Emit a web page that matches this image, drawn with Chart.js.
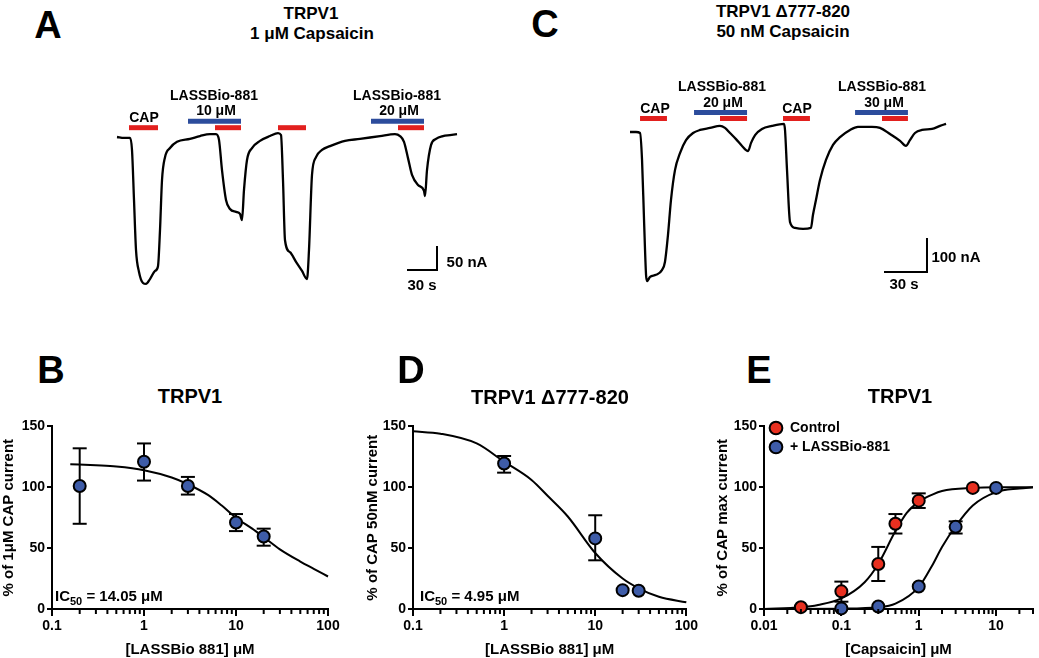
<!DOCTYPE html>
<html>
<head>
<meta charset="utf-8">
<script src="https://cdn.jsdelivr.net/npm/chart.js@4.4.1/dist/chart.umd.min.js"></script>
<style>
  html, body { margin: 0; padding: 0; background: #fff; }
  body { width: 1039px; height: 658px; position: relative; overflow: hidden;
         font-family: "Liberation Sans", Arial, sans-serif; font-weight: bold; color: #000; }
  canvas { position: absolute; }
  .t { position: absolute; transform: translate(-50%, -50%); line-height: 1; white-space: nowrap; }
  .l { position: absolute; transform: translate(0, -50%); line-height: 1; white-space: nowrap; }
  .big { font-size: 38px; }
  .ttl { font-size: 17px; }
  .lab { font-size: 14px; }
  .cal { font-size: 15px; }
  .ptl { font-size: 20px; }
  .ic { font-size: 15px; }
  .ic sub { font-size: 11px; vertical-align: -4px; }
</style>
</head>
<body>
<canvas id="trA" width="380" height="240" style="left:100px;top:60px"></canvas>
<canvas id="trC" width="380" height="240" style="left:600px;top:60px"></canvas>
<canvas id="chB" width="345" height="243" style="left:0px;top:416px"></canvas>
<canvas id="chD" width="336" height="243" style="left:364px;top:416px"></canvas>
<canvas id="chE" width="328" height="243" style="left:714px;top:416px"></canvas>

<div class="t big" style="left:48px;top:25px">A</div>
<div class="t ttl" style="left:311px;top:13px">TRPV1</div>
<div class="t ttl" style="left:312px;top:33px">1 μM Capsaicin</div>
<div class="t lab" style="left:144px;top:117px">CAP</div>
<div class="t lab" style="left:214px;top:95px">LASSBio-881</div>
<div class="t lab" style="left:216px;top:110px">10 μM</div>
<div class="t lab" style="left:397px;top:95px">LASSBio-881</div>
<div class="t lab" style="left:399px;top:110px">20 μM</div>
<div class="t cal" style="left:467px;top:261px">50 nA</div>
<div class="t cal" style="left:422px;top:284px">30 s</div>

<div class="t big" style="left:545px;top:24px">C</div>
<div class="t ttl" style="left:783px;top:11px">TRPV1 Δ777-820</div>
<div class="t ttl" style="left:783px;top:31px">50 nM Capsaicin</div>
<div class="t lab" style="left:655px;top:108px">CAP</div>
<div class="t lab" style="left:722px;top:86px">LASSBio-881</div>
<div class="t lab" style="left:723px;top:102px">20 μM</div>
<div class="t lab" style="left:797px;top:108px">CAP</div>
<div class="t lab" style="left:882px;top:86px">LASSBio-881</div>
<div class="t lab" style="left:884px;top:102px">30 μM</div>
<div class="t cal" style="left:956px;top:256px">100 nA</div>
<div class="t cal" style="left:904px;top:283px">30 s</div>

<div class="t big" style="left:51px;top:370px">B</div>
<div class="t ptl" style="left:190px;top:396px">TRPV1</div>
<div class="l ic" style="left:55px;top:597px">IC<sub>50</sub> = 14.05 μM</div>

<div class="t big" style="left:411px;top:370px">D</div>
<div class="t ptl" style="left:550px;top:397px">TRPV1 Δ777-820</div>
<div class="l ic" style="left:420px;top:597px">IC<sub>50</sub> = 4.95 μM</div>

<div class="t big" style="left:759px;top:370px">E</div>
<div class="t ptl" style="left:900px;top:396px">TRPV1</div>

<script>
// ---------- Panel A: current trace, time (s) / current (nA) ----------
const A_TIME = [0, 7, 13, 15, 17, 19, 22, 26, 29, 33, 38, 41, 43, 45, 48, 53, 60, 73, 83, 93,
  99, 102, 105, 109, 113, 119, 123, 125, 127, 130, 135, 143, 153, 161, 164, 166, 168, 173, 179, 185,
  190, 192, 195, 199, 205, 213, 228, 243, 263, 278, 283, 287, 291, 295, 301, 307, 308, 310, 314, 319,
  326, 333, 340];
const A_CURRENT = [0, -2, -2, -27, -131, -235, -281, -304, -306, -296, -279, -269, -194, -90, -42, -23, -10, -4, 2, 6,
  6, -6, -69, -131, -150, -156, -160, -173, -110, -48, -23, -8, 2, 8, 4, -90, -215, -240, -260, -279,
  -296, -235, -79, -42, -27, -19, -8, -4, 2, 6, 2, -10, -44, -79, -100, -112, -123, -69, -17, -4,
  2, 4, 6];
const A_CAP = [[12, 41], [161, 189]];
const A_LASS = [[71, 124], [254, 307]];
const A_CAP_LASS = [[98, 124], [281, 307]];

// ---------- Panel C: current trace ----------
const C_TIME = [0, 4.2, 7.0, 8.4, 9.8, 11.2, 11.9, 14.0, 18.1, 22.3, 24.4, 26.5, 28.6, 31.4, 34.9, 39.1, 44.0, 48.9, 55.8, 62.8,
  66.3, 69.8, 74.0, 78.2, 82.4, 84.5, 87.3, 92.1, 99.1, 107.5, 108.2, 109.6, 111.7, 115.2, 120.8, 126.3, 127.7, 129.8, 132.6, 136.8,
  141.7, 146.6, 153.6, 159.1, 161.9, 168.9, 174.5, 181.5, 188.5, 192.6, 195.4, 198.9, 203.8, 210.8, 216.4, 220.6];
const C_CURRENT = [0, 0, -3, -82, -259, -420, -438, -426, -420, -406, -382, -303, -200, -112, -62, -24, -3, 6, 12, 18,
  12, -3, -21, -41, -56, -32, -9, 9, 18, 24, 6, -112, -265, -282, -285, -282, -244, -200, -141, -82,
  -38, -15, 6, 15, 15, 15, 12, -6, -26, -41, -24, -3, 6, 9, 18, 24];
const C_CAP = [[7.0, 25.8], [106.8, 125.6]];
const C_LASS = [[44.7, 81.7], [157.1, 194.0]];
const C_CAP_LASS = [[62.8, 81.7], [175.9, 194.0]];

// ---------- Panel B: TRPV1, LASSBio-881 concentration-response ----------
const B_CONC = [0.2, 1, 3, 10, 20];
const B_RESP = [101, 121, 101, 71, 59.5];
const B_ERR_LO = [70, 105.5, 94, 64, 52];
const B_ERR_HI = [132, 136, 108.5, 78, 66];
const B_FIT_X = [0.158, 0.3, 0.5, 1, 2, 3, 5, 7, 10, 15, 20, 30, 50, 70, 100];
const B_FIT_Y = [119, 118, 117, 114, 108, 102.5, 93.5, 85, 75, 66, 59, 49, 39, 33, 26.7];

// ---------- Panel D: TRPV1 Δ777-820 ----------
const D_CONC = [1, 10, 20, 30];
const D_RESP = [119.5, 58, 15.5, 15];
const D_ERR_LO = [112, 40, null, null];
const D_ERR_HI = [125.7, 77, null, null];
const D_FIT_X = [0.1, 0.2, 0.5, 1, 2, 3, 5, 10, 20, 30, 50, 100];
const D_FIT_Y = [146, 144, 136, 121, 106, 93, 76, 46, 25, 17, 10, 5.5];

// ---------- Panel E: capsaicin concentration-response ----------
const E_CONC_CTRL = [0.03, 0.1, 0.3, 0.5, 1, 5];
const E_RESP_CTRL = [1.5, 14.5, 37, 70, 89, 99.5];
const E_ERR_LO_CTRL = [null, 6, 23, 62, 83, null];
const E_ERR_HI_CTRL = [null, 22.5, 51, 78, 95, null];
const E_CONC_LASS = [0.1, 0.3, 1, 3, 10];
const E_RESP_LASS = [0.5, 2, 18.5, 67.5, 99.5];
const E_ERR_LO_LASS = [null, null, null, 62, null];
const E_ERR_HI_LASS = [null, null, null, 72, null];
const E_FIT_X_CTRL = [0.01, 0.03, 0.05, 0.1, 0.2, 0.3, 0.5, 0.7, 1, 1.5, 2, 5, 10, 30];
const E_FIT_Y_CTRL = [0, 1.4, 3.3, 8.7, 22, 37, 64, 79, 88, 94, 97, 99.5, 100, 100];
const E_FIT_X_LASS = [0.01, 0.1, 0.3, 0.5, 1, 1.5, 2, 3, 5, 10, 20, 30];
const E_FIT_Y_LASS = [0, 0.3, 1.4, 4.4, 18, 36, 51, 68, 85, 96, 99, 100];

const RED = 'rgb(226,32,30)';
const BLUE = 'rgb(44,76,156)';
const PT_RED = 'rgb(232,48,32)';
const PT_BLUE = 'rgb(62,92,168)';

Chart.defaults.font.family = '"Liberation Sans", Arial, sans-serif';
Chart.defaults.font.weight = 'bold';
Chart.defaults.color = '#000';
Chart.defaults.animation = false;

const xy = (xs, ys) => xs.map((x, i) => ({x: x, y: ys[i]}));

// ---- traces ----
function traceChart(id, o) {
  const datasets = [{
    data: xy(o.time, o.current), showLine: true, borderColor: '#000', borderWidth: 2.3,
    pointRadius: 0, cubicInterpolationMode: 'monotone'
  }];
  o.bars.forEach(b => b.spans.forEach(s => datasets.push({
    data: [{x: s[0], y: b.level}, {x: s[1], y: b.level}], showLine: true,
    borderColor: b.color, borderWidth: 5, pointRadius: 0, borderCapStyle: 'butt'
  })));
  // calibration bar
  datasets.push({
    data: [{x: o.calX, y: o.calY}, {x: o.calX + o.calT, y: o.calY}, {x: o.calX + o.calT, y: o.calY + o.calI}],
    showLine: true, borderColor: '#000', borderWidth: 2, pointRadius: 0
  });
  return new Chart(document.getElementById(id), {
    type: 'scatter',
    data: {datasets},
    options: {
      responsive: false, events: [],
      layout: {padding: 0},
      plugins: {legend: {display: false}, tooltip: {enabled: false}},
      scales: {
        x: {type: 'linear', display: false, min: o.xMin, max: o.xMax},
        y: {type: 'linear', display: false, min: o.yMin, max: o.yMax}
      }
    }
  });
}

traceChart('trA', {
  time: A_TIME, current: A_CURRENT,
  bars: [{spans: A_CAP, level: 19.4, color: RED}, {spans: A_LASS, level: 32.7, color: BLUE},
         {spans: A_CAP_LASS, level: 19.4, color: RED}],
  calX: 290, calY: -277, calT: 30, calI: 50,
  xMin: -17, xMax: 363, yMin: -339.5, yMax: 160.4
});

traceChart('trC', {
  time: C_TIME, current: C_CURRENT,
  bars: [{spans: C_CAP, level: 39.7, color: RED}, {spans: C_LASS, level: 57, color: BLUE},
         {spans: C_CAP_LASS, level: 39.7, color: RED}],
  calX: 177.3, calY: -411.6, calT: 30, calI: 100,
  xMin: -20.94, xMax: 244.3, yMin: -493.9, yMax: 211.7
});

// ---- concentration-response ----
const isDecade = v => Math.abs(Math.log10(v) - Math.round(Math.log10(v))) < 1e-6;

// short minor ticks between the decades
const minorTicks = {
  id: 'minorTicks',
  afterDraw(chart) {
    const s = chart.scales.x;
    const ctx = chart.ctx;
    ctx.save();
    ctx.strokeStyle = '#000';
    ctx.lineWidth = 2;
    s.ticks.forEach(t => {
      if (isDecade(t.value)) return;
      const x = s.getPixelForValue(t.value);
      ctx.beginPath();
      ctx.moveTo(x, s.top);
      ctx.lineTo(x, s.top + 5);
      ctx.stroke();
    });
    ctx.restore();
  }
};

function pointSet(label, xs, ys, color) {
  return {
    label, data: xy(xs, ys), showLine: false, pointStyle: 'circle', pointRadius: 6,
    backgroundColor: color, borderColor: '#000', borderWidth: 2,
    pointBackgroundColor: color, pointBorderColor: '#000', pointBorderWidth: 2,
    order: 0, clip: false
  };
}
function fitSet(xs, ys) {
  return {
    label: 'fit', data: xy(xs, ys), showLine: true, borderColor: '#000', borderWidth: 2,
    pointRadius: 0, cubicInterpolationMode: 'monotone', order: 1, clip: false
  };
}
function errorSets(xs, lo, hi) {
  const sets = [];
  xs.forEach((x, i) => {
    if (lo[i] == null) return;
    sets.push({
      label: 'err', data: [{x, y: lo[i]}, {x, y: hi[i]}], showLine: true,
      borderColor: '#000', borderWidth: 2,
      pointStyle: 'line', pointRadius: 7, pointBorderColor: '#000', pointBorderWidth: 2,
      order: 2, clip: false
    });
  });
  return sets;
}

function doseChart(id, o) {
  return new Chart(document.getElementById(id), {
    type: 'scatter',
    data: {datasets: o.datasets},
    options: {
      responsive: false, events: [],
      layout: {padding: o.padding},
      plugins: {legend: o.legend || {display: false}, tooltip: {enabled: false}},
      scales: {
        x: {
          type: 'logarithmic', min: o.xMin, max: o.xMax,
          border: {color: '#000', width: 2},
          grid: {drawOnChartArea: false, tickLength: 7, lineWidth: 2, color: '#000',
                 tickColor: c => (c.tick && isDecade(c.tick.value)) ? '#000' : 'rgba(0,0,0,0)'},
          ticks: {autoSkip: false, maxRotation: 0, padding: 2, font: {size: 14},
                  callback: v => isDecade(v) ? String(+Number(v).toPrecision(3)) : ''},
          title: {display: true, text: o.xTitle, font: {size: 15}, padding: 0},
          afterBuildTicks: s => {
            s.ticks = s.ticks.filter(t => {
              const m = t.value / Math.pow(10, Math.floor(Math.log10(t.value) + 1e-9));
              return Math.abs(m - Math.round(m)) < 1e-6;
            });
          },
          afterFit: s => { s.height = 50; }
        },
        y: {
          type: 'linear', min: 0, max: 150,
          border: {color: '#000', width: 2},
          grid: {drawOnChartArea: false, tickLength: 5, lineWidth: 2, color: '#000'},
          ticks: {stepSize: 50, padding: 2, font: {size: 14}},
          title: {display: true, text: o.yTitle, font: {size: 15}, padding: 0},
          afterFit: s => { s.width = o.yWidth; }
        }
      }
    },
    plugins: [minorTicks]
  });
}

doseChart('chB', {
  datasets: [pointSet('TRPV1', B_CONC, B_RESP, PT_BLUE), fitSet(B_FIT_X, B_FIT_Y),
             ...errorSets(B_CONC, B_ERR_LO, B_ERR_HI)],
  xMin: 0.1, xMax: 100, yWidth: 52,
  padding: {left: 0, top: 10, right: 17, bottom: 0},
  xTitle: '[LASSBio 881] μM', yTitle: '% of 1μM CAP current'
});

doseChart('chD', {
  datasets: [pointSet('TRPV1 Δ777-820', D_CONC, D_RESP, PT_BLUE), fitSet(D_FIT_X, D_FIT_Y),
             ...errorSets(D_CONC, D_ERR_LO, D_ERR_HI)],
  xMin: 0.1, xMax: 100, yWidth: 49,
  padding: {left: 0, top: 10, right: 12, bottom: 0},
  xTitle: '[LASSBio 881] μM', yTitle: '% of CAP 50nM current'
});

doseChart('chE', {
  datasets: [pointSet('Control', E_CONC_CTRL, E_RESP_CTRL, PT_RED),
             pointSet('+ LASSBio-881', E_CONC_LASS, E_RESP_LASS, PT_BLUE),
             fitSet(E_FIT_X_CTRL, E_FIT_Y_CTRL), fitSet(E_FIT_X_LASS, E_FIT_Y_LASS),
             ...errorSets(E_CONC_CTRL, E_ERR_LO_CTRL, E_ERR_HI_CTRL),
             ...errorSets(E_CONC_LASS, E_ERR_LO_LASS, E_ERR_HI_LASS)],
  xMin: 0.01, xMax: 30, yWidth: 50,
  padding: {left: 0, top: 10, right: 0, bottom: 0},
  xTitle: '[Capsaicin] μM', yTitle: '% of CAP max current',
  legend: {
    display: true, position: 'chartArea', align: 'start',
    labels: {usePointStyle: true, pointStyle: 'circle', boxHeight: 9, padding: 5,
             font: {size: 14}, color: '#000', filter: item => item.datasetIndex < 2}
  }
});
</script>
</body>
</html>
